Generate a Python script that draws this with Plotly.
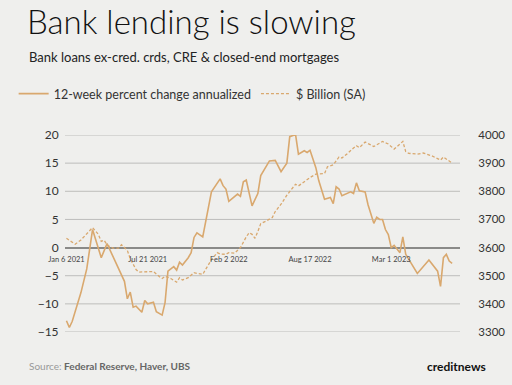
import plotly.graph_objects as go
import pandas as pd

# ---------------- data ----------------
start = pd.Timestamp("2021-01-06")

pct_weeks = [0, 1, 2, 5, 7, 9, 12, 14, 20, 21, 22, 23, 24, 26, 27, 28, 30, 31, 33, 34,
             35, 37, 38, 39, 40, 42, 43, 44, 45, 47, 50, 51, 53, 54, 55, 56, 59, 60, 61, 62,
             64, 66, 67, 70, 72, 74, 76, 77, 79, 80, 82, 83, 84, 86, 87, 89, 91, 92, 93, 94,
             95, 98, 99, 100, 101, 103, 104, 106, 107, 108, 109, 110, 111, 112, 113, 115, 116, 117, 121, 125,
             128, 129, 130, 131, 132, 133]
pct_vals = [-13.0, -14.2, -13.1, -8.0, -3.8, 3.2, -1.8, 0.7, -6.0, -9.1, -7.9, -10.6, -10.4, -11.5, -9.4, -10.0, -9.7, -11.4, -12.0, -9.8,
            -4.2, -3.4, -4.0, -2.6, -3.1, -1.8, -0.9, 1.8, 2.6, 1.9, 9.9, 10.7, 12.2, 11.0, 10.4, 8.2, 9.5, 9.1, 11.7, 12.0,
            7.4, 9.6, 12.8, 15.4, 15.5, 13.5, 15.0, 19.7, 20.1, 16.6, 17.2, 16.9, 17.3, 14.2, 11.9, 8.6, 8.9, 7.8, 10.8, 10.4,
            9.2, 9.9, 9.6, 11.5, 10.1, 9.9, 7.6, 4.3, 5.4, 5.0, 5.0, 3.2, 2.3, 0.0, 0.4, -0.9, 1.9, -1.2, -4.6, -2.2,
            -4.2, -6.9, -1.8, -1.2, -2.4, -2.8]

bil_weeks = [0, 3, 5, 7, 9, 11, 12, 13, 14, 16, 18, 19, 21, 22, 24, 25, 30, 32, 33, 34,
             36, 38, 39, 40, 42, 44, 45, 47, 50, 52, 53, 55, 56, 58, 60, 62, 63, 64, 65, 66,
             67, 69, 71, 72, 74, 76, 78, 79, 80, 82, 84, 86, 87, 89, 90, 92, 94, 95, 97, 98,
             99, 100, 101, 103, 106, 109, 111, 113, 116, 117, 118, 121, 122, 123, 126, 129, 130, 133]
bil_vals = [3633, 3612, 3627, 3650, 3671, 3647, 3622, 3626, 3609, 3598, 3598, 3610, 3590, 3560, 3522, 3513, 3515, 3497, 3490, 3498,
            3490, 3477, 3493, 3485, 3493, 3511, 3508, 3505, 3557, 3582, 3577, 3576, 3582, 3580, 3600, 3638, 3653, 3647, 3633, 3657,
            3685, 3695, 3707, 3728, 3754, 3786, 3811, 3825, 3819, 3835, 3849, 3861, 3861, 3863, 3887, 3894, 3922, 3918, 3935, 3946,
            3954, 3962, 3955, 3975, 3959, 3977, 3968, 3950, 3977, 3941, 3935, 3932, 3935, 3936, 3926, 3911, 3922, 3900]

tick_dates = ["2021-01-06", "2021-07-21", "2022-02-02", "2022-08-17", "2023-03-01"]
tick_labels = ["Jan 6 2021", "Jul 21 2021", "Feb 2 2022", "Aug 17 2022", "Mar 1 2023"]
left_ticks = [-15, -10, -5, 0, 5, 10, 15, 20]

pct_name = "12-week percent change annualized"
bil_name = "$ Billion (SA)"

pct_dates = [start + pd.Timedelta(weeks=w) for w in pct_weeks]
bil_dates = [start + pd.Timedelta(weeks=w) for w in bil_weeks]

# ---------------- style ----------------
BG = "#EFEFED"
LINE = "#D9A86E"
GRID = "#BDBDBB"
FONT = "Lato"

fig = go.Figure()

# horizontal gridlines at the left-axis tick values (drawn below the data)
for v in left_ticks:
    if v != 0:
        fig.add_hline(y=v, line=dict(color=GRID, width=1), layer="below")

fig.add_trace(go.Scatter(x=pct_dates, y=pct_vals, name=pct_name, mode="lines",
                         line=dict(color=LINE, width=1.6), yaxis="y"))
fig.add_trace(go.Scatter(x=bil_dates, y=bil_vals, name=bil_name, mode="lines",
                         line=dict(color=LINE, width=1.3, dash="3px,2px"), yaxis="y2"))

fig.update_layout(
    width=512, height=385,
    paper_bgcolor=BG, plot_bgcolor="rgba(0,0,0,0)",
    margin=dict(l=65, r=52, t=135, b=53, autoexpand=False),
    font=dict(family=FONT, color="#333333", size=12),
    title=dict(text="Bank lending is slowing", x=27/512, xanchor="left",
               y=1 - 22/385, yanchor="middle", yref="container",
               font=dict(family=FONT, size=33, weight=300, color="#111111")),
    showlegend=True,
    legend=dict(orientation="h", x=-0.13, xanchor="left", y=1.208, yanchor="middle",
                font=dict(family=FONT, size=12.5, color="#333333"),
                bgcolor="rgba(0,0,0,0)", traceorder="normal"),
    xaxis=dict(type="date", range=["2021-01-02 12:00", "2023-08-14"],
               tickvals=tick_dates, ticktext=tick_labels,
               anchor="free", position=15/35, showgrid=False, showline=False,
               zeroline=False, ticks="outside", ticklen=4, tickcolor="rgba(0,0,0,0)",
               tickfont=dict(size=7.5, color="#444444")),
    yaxis=dict(range=[-15, 20], tickvals=left_ticks, showgrid=False,
               zeroline=True, zerolinecolor="#8A8A88", zerolinewidth=2,
               showline=False, ticks="outside", ticklen=3, tickcolor="rgba(0,0,0,0)",
               tickfont=dict(size=12, color="#333333")),
    yaxis2=dict(range=[3300, 4000], dtick=100, overlaying="y", side="right",
                showgrid=False, zeroline=False, showline=False,
                ticks="outside", ticklen=15, tickcolor="rgba(0,0,0,0)",
                tickfont=dict(size=11.5, color="#333333")),
    annotations=[
        dict(text="Bank loans ex-cred. crds, CRE &amp; closed-end mortgages",
             xref="paper", yref="paper", x=(27 - 65) / 395, y=(332 - 57) / 197,
             xanchor="left", yanchor="middle", showarrow=False,
             font=dict(family=FONT, size=13, color="#222222")),
        dict(text="Source: <span style='color:#666666'><b>Federal Reserve, Haver, UBS</b></span>",
             xref="paper", yref="paper", x=(27 - 65) / 395, y=(332 - 366) / 197,
             xanchor="left", yanchor="middle", showarrow=False,
             font=dict(family=FONT, size=10, color="#999999")),
        dict(text="<b>creditnews</b>",
             xref="paper", yref="paper", x=(488 - 65) / 395, y=(332 - 366) / 197,
             xanchor="right", yanchor="middle", showarrow=False,
             font=dict(family=FONT, size=12, color="#111111")),
    ],
)

fig.write_html("out.html", config={"displayModeBar": False},
               post_script="document.body.style.margin='0';document.body.style.background='%s';" % BG)
